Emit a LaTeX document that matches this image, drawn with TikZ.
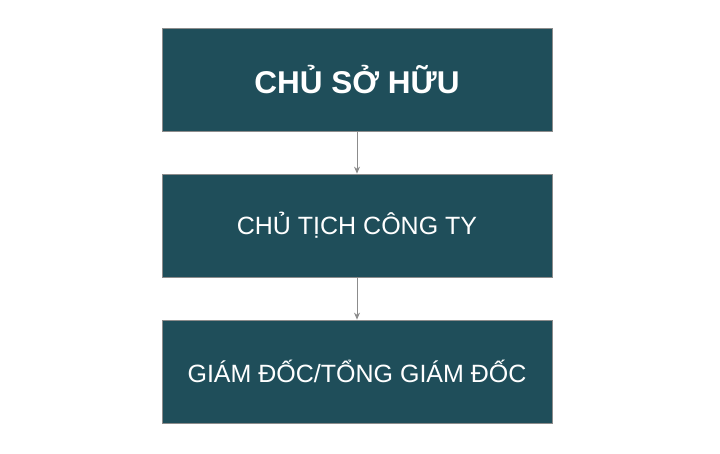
\documentclass[tikz,border=0pt]{standalone}
\usepackage{fontspec}
\setmainfont{Liberation Sans}
\usepackage{tikz}
\usetikzlibrary{arrows,arrows.meta,shapes}
\usetikzlibrary{positioning}
\definecolor{tealbox}{HTML}{1F4E5A}
\definecolor{edgegrey}{HTML}{8C8C8C}
\tikzstyle{block} = [rectangle, draw=edgegrey, fill=tealbox, text=white,
    minimum width=390pt, minimum height=103pt, inner sep=0pt, line width=0.8pt]
\tikzstyle{link} = [-{Stealth[length=7pt,width=6pt]}, edgegrey, line width=0.8pt]

\begin{document}
\begin{tikzpicture}[node distance = 146pt, auto]
  \useasboundingbox (0,0) rectangle (720pt,-454pt);
  % Place nodes
  \node [block, font=\bfseries\fontsize{31.5}{36}\selectfont] (owner) at (357pt,-79.5pt)
  {CHỦ SỞ HỮU};
  \node [block, below of=owner, font=\fontsize{25}{30}\selectfont] (chair)
  {CHỦ TỊCH CÔNG TY};
  \node [block, below of=chair, font=\fontsize{25}{30}\selectfont] (director)
  {GIÁM ĐỐC/TỔNG GIÁM ĐỐC};
  % Draw edges
  \draw [link] (owner) -- (chair);
  \draw [link] (chair) -- (director);
\end{tikzpicture}
\end{document}
